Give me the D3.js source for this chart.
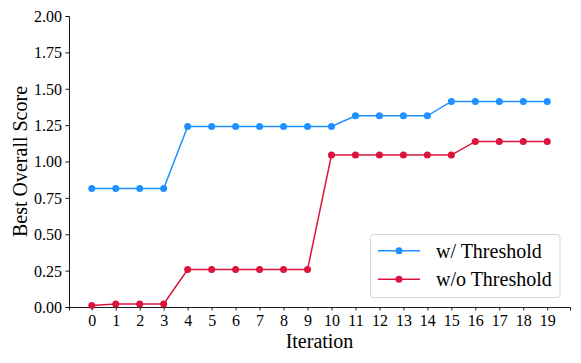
<!DOCTYPE html>
<html lang="en">
<head>
  <meta charset="utf-8">
  <title>Best Overall Score</title>
  <script src="https://cdn.jsdelivr.net/npm/d3@7"></script>
  <style>
    body { margin: 0; background: #fff; }
    svg text { font-family: "Liberation Serif", "Times New Roman", serif; fill: #000; }
  </style>
</head>
<body>
  <svg id="chart"></svg>
  <script>
    // data
    var iterations = d3.range(0, 20);
    var withThreshold = [0.815, 0.815, 0.815, 0.815, 1.241, 1.241, 1.241, 1.241, 1.241, 1.241,
      1.241, 1.314, 1.314, 1.314, 1.314, 1.413, 1.413, 1.413, 1.413, 1.413];
    var withoutThreshold = [0.01, 0.021, 0.021, 0.021, 0.257, 0.257, 0.257, 0.257, 0.257, 0.257,
      1.044, 1.044, 1.044, 1.044, 1.044, 1.044, 1.138, 1.138, 1.138, 1.138];
    var yTicks = [0, 0.25, 0.5, 0.75, 1.0, 1.25, 1.5, 1.75, 2.0];
    var seriesNames = ["w/ Threshold", "w/o Threshold"];
    var colors = ["#1E90FF", "#DC143C"];

    var w = 581, h = 363;
    var padLeft = 69, padRight = 570, padTop = 16, padBottom = 307;
    var serif = "Liberation Serif, Times New Roman, serif";

    var svg = d3.select("#chart").attr("width", w).attr("height", h);

    var x = d3.scaleLinear().domain([-0.95, 19.95]).range([padLeft, padRight]);
    var y = d3.scaleLinear().domain([0, 2]).range([padBottom, padTop]);

    // y axis
    var yAxis = d3.axisLeft(y).tickValues(yTicks).tickFormat(d3.format(".2f")).tickSize(3.5).tickPadding(3.5);
    var gy = svg.append("g").attr("transform", "translate(" + padLeft + ",0)").call(yAxis)
      .attr("font-family", serif).attr("font-size", 16);
    gy.selectAll("text").attr("dy", "0.34em");

    // x axis
    var xAxis = d3.axisBottom(x).tickValues(iterations).tickFormat(d3.format("d")).tickSize(3.5).tickPadding(3.5);
    var gx = svg.append("g").attr("transform", "translate(0," + padBottom + ")").call(xAxis)
      .attr("font-family", serif).attr("font-size", 16);
    gx.selectAll("text").attr("dy", "0.75em");

    svg.selectAll(".domain").attr("stroke", "#000").attr("stroke-width", 0.9);
    svg.selectAll(".tick line").attr("stroke", "#000").attr("stroke-width", 0.9);

    // axis titles
    svg.append("text")
      .attr("x", (padLeft + padRight) / 2).attr("y", 348)
      .attr("text-anchor", "middle").style("font-size", "20px")
      .text("Iteration");
    svg.append("text")
      .attr("transform", "translate(27," + (padTop + padBottom) / 2 + ") rotate(-90)")
      .attr("text-anchor", "middle").style("font-size", "20px")
      .text("Best Overall Score");

    // lines and markers
    var series = [withThreshold, withoutThreshold];
    var line = d3.line()
      .x(function(d, i) { return x(iterations[i]); })
      .y(function(d) { return y(d); });

    series.forEach(function(vals, k) {
      svg.append("path")
        .datum(vals)
        .attr("fill", "none")
        .attr("stroke", colors[k])
        .attr("stroke-width", 1.5)
        .attr("d", line);
      svg.append("g").selectAll("circle")
        .data(vals)
        .enter()
        .append("circle")
        .attr("cx", function(d, i) { return x(iterations[i]); })
        .attr("cy", function(d) { return y(d); })
        .attr("r", 3.5)
        .attr("fill", colors[k]);
    });

    // legend
    var lg = svg.append("g");
    lg.append("rect")
      .attr("x", 370.5).attr("y", 234.5).attr("width", 189.5).attr("height", 63)
      .attr("rx", 3).attr("fill", "#fff").attr("fill-opacity", 0.8)
      .attr("stroke", "#d6d6d6").attr("stroke-width", 1);
    seriesNames.forEach(function(name, k) {
      var cy = 250.7 + k * 28.6;
      lg.append("line")
        .attr("x1", 378).attr("x2", 420).attr("y1", cy).attr("y2", cy)
        .attr("stroke", colors[k]).attr("stroke-width", 1.5);
      lg.append("circle").attr("cx", 399).attr("cy", cy).attr("r", 3.5).attr("fill", colors[k]);
      lg.append("text")
        .attr("x", 436).attr("y", cy).attr("dy", "0.35em")
        .style("font-size", "20px")
        .text(name);
    });
  </script>
</body>
</html>
